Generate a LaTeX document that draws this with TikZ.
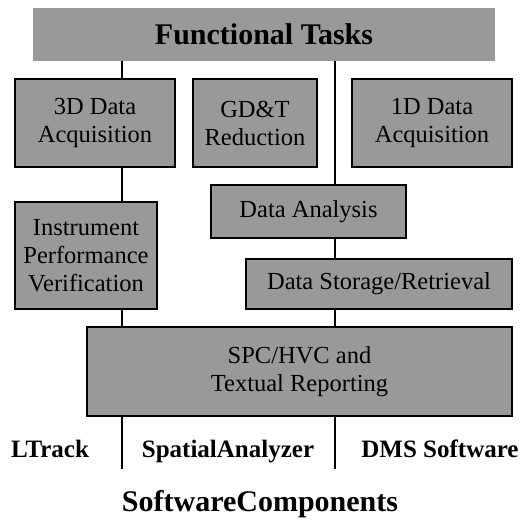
\documentclass[tikz,border=0pt]{standalone}
\usepackage{fontspec}
\setmainfont{Liberation Serif}
\definecolor{boxgray}{HTML}{999999}
\begin{document}
\begin{tikzpicture}[x=1pt,y=-1pt,
  box/.style={draw=black,line width=1.6pt,fill=boxgray,inner sep=0pt,align=center,
    font=\fontsize{24.5}{28}\selectfont},
  conn/.style={line width=1.5pt},
  lab/.style={font=\fontsize{25}{28}\selectfont\bfseries,inner sep=0pt,anchor=base}]
\useasboundingbox (0,0) rectangle (521,519);
\node[fill=boxgray,minimum width=462pt,minimum height=53pt,inner sep=0pt] (top) at (264,34.5) {};
\node[font=\fontsize{30}{32}\selectfont\bfseries,inner sep=0pt,anchor=base] (toplab) at (264,45) {Functional Tasks};
\node[box,minimum width=160pt,minimum height=88pt] (dd) at (95,123) {3D Data\\Acquisition};
\node[box,minimum width=124pt,minimum height=88pt] (gdt) at (255,123) {GD\&T\\Reduction};
\node[box,minimum width=160pt,minimum height=88pt] (od) at (432,123) {1D Data\\Acquisition};
\node[box,minimum width=142pt,minimum height=107pt] (ipv) at (86,255.5) {Instrument\\Performance\\Verification};
\node[box,minimum width=195pt,minimum height=53pt] (da) at (308.5,211.5) {Data Analysis};
\node[box,minimum width=266pt,minimum height=50pt] (ds) at (379,284) {Data Storage/Retrieval};
\node[box,minimum width=425pt,minimum height=89pt] (spc) at (299.5,371.5) {SPC/HVC and\\Textual Reporting};
\coordinate (L) at (122,0);
\coordinate (R) at (335,0);
\coordinate (Lend) at (122,469);
\coordinate (Rend) at (335,469);
\draw[conn] (top.south -| L) -- (dd.north -| L);
\draw[conn] (dd.south -| L) -- (ipv.north -| L);
\draw[conn] (ipv.south -| L) -- (spc.north -| L);
\draw[conn] (top.south -| R) -- (da.north -| R);
\draw[conn] (da.south -| R) -- (ds.north -| R);
\draw[conn] (ds.south -| R) -- (spc.north -| R);
\draw[conn] (spc.south -| Lend) -- (Lend);
\draw[conn] (spc.south -| Rend) -- (Rend);
\node[lab] (lt) at (50,457) {LTrack};
\node[lab] (sa) at (228,457) {SpatialAnalyzer};
\node[lab] (dms) at (440,457) {DMS Software};
\node[font=\fontsize{30}{32}\selectfont\bfseries,inner sep=0pt,anchor=base] (sc) at (260,511) {SoftwareComponents};
\end{tikzpicture}
\end{document}
